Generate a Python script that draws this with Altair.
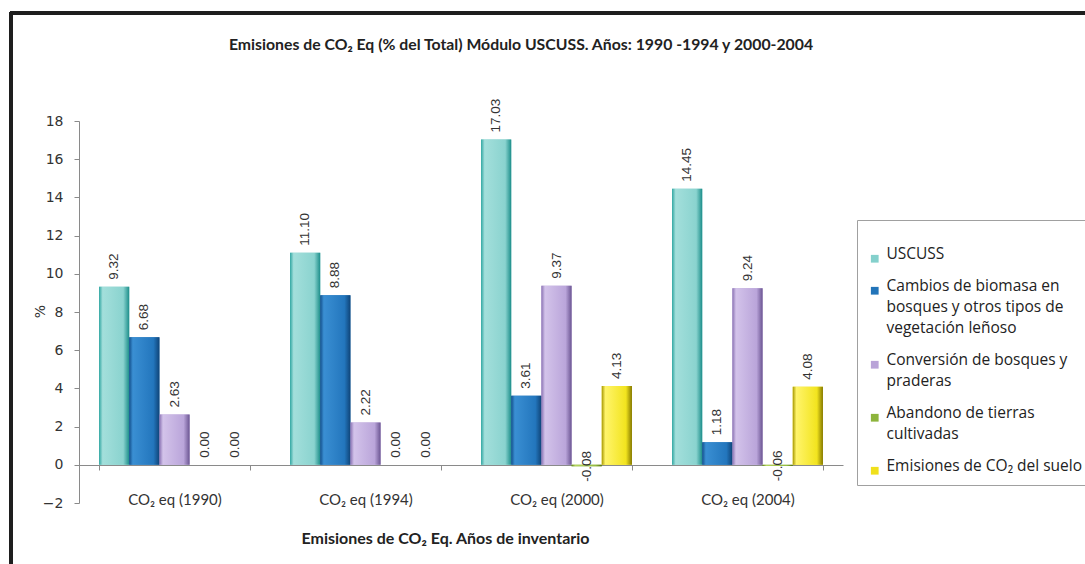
import altair as alt
import pandas as pd

# Inventory years (categories on the x axis)
years = ["CO₂ eq (1990)", "CO₂ eq (1994)", "CO₂ eq (2000)", "CO₂ eq (2004)"]

# Sub-categories of the USCUSS module ("|" marks a line break in the legend)
series = [
    "USCUSS",
    "Cambios de biomasa en|bosques y otros tipos de|vegetación leñoso",
    "Conversión de bosques y|praderas",
    "Abandono de tierras|cultivadas",
    "Emisiones de CO₂ del suelo",
]

# Share of total CO2-eq emissions (%), one value per year
uscuss = [9.32, 11.10, 17.03, 14.45]
biomasa = [6.68, 8.88, 3.61, 1.18]
conversion = [2.63, 2.22, 9.37, 9.24]
abandono = [0.00, 0.00, -0.08, -0.06]
suelo = [0.00, 0.00, 4.13, 4.08]

values_by_series = [uscuss, biomasa, conversion, abandono, suelo]

chart_title = "Emisiones de CO₂ Eq (% del Total) Módulo USCUSS. Años: 1990 -1994 y 2000-2004"

base_colors = ["#84d0cc", "#2274b9", "#b9a3d8", "#8db43c", "#f0e01c"]
gradients = [
    ["#2fa6a1", "#a3dfdb", "#8ad3cf", "#1c8e8a"],
    ["#134f8b", "#3a8fd3", "#2376bd", "#0f4478"],
    ["#8a72b3", "#d3c3ea", "#baa5da", "#6b5592"],
    ["#5d7f1c", "#b5d65e", "#94bb40", "#4e6c14"],
    ["#a79800", "#fff46a", "#f2e41e", "#857900"],
]

rows = []
for s, vals in zip(series, values_by_series):
    for y, v in zip(years, vals):
        rows.append({"year": y, "serie": s, "value": v, "label": f"{v:.2f}"})
df = pd.DataFrame(rows)

W, H = 764, 382
LEFT, TOP = 79, 121

x_enc = alt.X(
    "year:N",
    sort=years,
    scale=alt.Scale(domain=years, paddingInner=0.21, paddingOuter=0.105),
    axis=alt.Axis(
        title="Emisiones de CO₂ Eq. Años de inventario",
        labelAngle=0,
        offset=-38,
        tickBand="extent",
        tickSize=5,
        domainColor="#8a8a8a",
        tickColor="#8a8a8a",
        labelPadding=22,
        labelFont="Lato",
        labelFontSize=15,
        labelColor="#333333",
        titleFont="Lato",
        titleFontSize=16,
        titleFontWeight="bold",
        titleColor="#222222",
        titlePadding=23,
        titleX=366,
        titleAnchor="middle",
    ),
)
y_enc = alt.Y(
    "value:Q",
    scale=alt.Scale(domain=[-2, 18], nice=False, zero=False),
    axis=alt.Axis(
        title="%",
        titleAngle=270,
        titleX=-32,
        titleY=190,
        titleFont="DejaVu Sans",
        titleFontSize=14,
        titleFontWeight="normal",
        titleColor="#333333",
        values=list(range(-2, 19, 2)),
        grid=False,
        tickSize=5,
        domainColor="#8a8a8a",
        tickColor="#8a8a8a",
        labelFont="DejaVu Sans",
        labelFontSize=14,
        labelColor="#333333",
        labelPadding=11,
    ),
)
xo_enc = alt.XOffset(
    "serie:N", sort=series,
    scale=alt.Scale(domain=series, paddingInner=0, paddingOuter=0),
)

base = alt.Chart(df)

# Flat bars that carry the legend
legend_bars = base.mark_bar().encode(
    x=x_enc,
    y=y_enc,
    xOffset=xo_enc,
    color=alt.Color(
        "serie:N",
        sort=series,
        scale=alt.Scale(domain=series, range=base_colors),
        legend=alt.Legend(
            title=" ",
            titleFontSize=8,
            titlePadding=13,
            orient="none",
            legendX=778,
            legendY=99,
            direction="vertical",
            fillColor="white",
            strokeColor="#a0a0a0",
            padding=10,
            symbolType="square",
            symbolSize=60,
            symbolStrokeWidth=0,
            labelFont="Open Sans",
            labelFontSize=15.5,
            labelColor="#222222",
            labelLimit=0,
            labelOffset=4,
            labelExpr="split(datum.label, '|')",
            labelBaseline="alphabetic",
            rowPadding=15,
        ),
    ),
)

# Shaded bars drawn over the flat ones
shaded = []
for s, stops in zip(series, gradients):
    grad = alt.LinearGradient(
        gradient="linear",
        x1=0, x2=1, y1=0, y2=0,
        stops=[
            alt.GradientStop(offset=0, color=stops[0]),
            alt.GradientStop(offset=0.12, color=stops[1]),
            alt.GradientStop(offset=0.8, color=stops[2]),
            alt.GradientStop(offset=1, color=stops[3]),
        ],
    )
    shaded.append(
        base.transform_filter(alt.datum.serie == s)
        .mark_bar(fill=grad)
        .encode(x=x_enc, y=y_enc, xOffset=xo_enc)
    )

# Value labels, rotated, above each bar (centred on the bar end when negative)
labels_pos = base.transform_filter(alt.datum.value >= 0).mark_text(
    angle=270, align="left", baseline="middle", dx=7,
    font="Liberation Sans", fontSize=13.5, color="#333333",
).encode(x=x_enc, y=y_enc, xOffset=xo_enc, text="label:N")

labels_neg = base.transform_filter(alt.datum.value < 0).mark_text(
    angle=270, align="center", baseline="middle",
    font="Liberation Sans", fontSize=13.5, color="#333333",
).encode(x=x_enc, y=y_enc, xOffset=xo_enc, text="label:N")

# Chart heading above the plot area
heading = alt.Chart(pd.DataFrame({"t": [chart_title]})).mark_text(
    font="Lato", fontSize=15.8, fontWeight="bold", color="#222222",
    align="center", baseline="middle",
).encode(x=alt.value(521 - LEFT), y=alt.value(45 - TOP), text="t:N")

# Outer frame of the figure (top and left edges)
frame_top = alt.Chart(df).mark_rule(color="#1e1e1e", strokeWidth=3).encode(
    x=alt.value(-LEFT + 10), x2=alt.value(1085 - LEFT), y=alt.value(13 - TOP)
)
frame_left = alt.Chart(df).mark_rule(color="#1e1e1e", strokeWidth=3).encode(
    x=alt.value(11 - LEFT), y=alt.value(12 - TOP), y2=alt.value(564 - TOP)
)

chart = alt.layer(
    legend_bars, *shaded, labels_pos, labels_neg, heading, frame_top, frame_left
).properties(
    width=W,
    height=H,
    autosize=alt.AutoSizeParams(type="none"),
    padding={"left": LEFT, "top": TOP, "right": 1085 - LEFT - W, "bottom": 564 - TOP - H},
).configure(
    background="white",
    style={"guide-label": {"lineHeight": 21}},
).configure_view(stroke=None)

chart.save("out.html", embed_options={"renderer": "svg", "actions": False})
